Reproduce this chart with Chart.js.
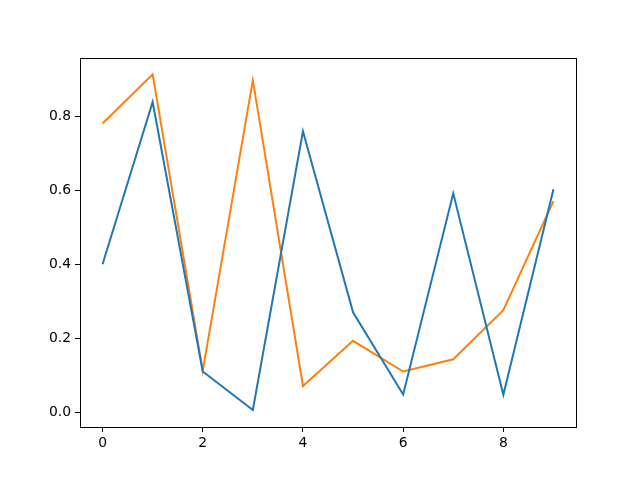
<!DOCTYPE html>
<html>
<head>
<meta charset="utf-8">
<script src="https://cdn.jsdelivr.net/npm/chart.js@4"></script>
<style>
html,body{margin:0;padding:0;background:#fff;}
canvas{display:block;}
</style>
</head>
<body>
<canvas id="c" width="640" height="480"></canvas>
<script>
const xValues = [0, 1, 2, 3, 4, 5, 6, 7, 8, 9];
const series1 = [0.400, 0.839, 0.110, 0.006, 0.760, 0.270, 0.048, 0.592, 0.047, 0.603];
const series2 = [0.781, 0.914, 0.112, 0.898, 0.071, 0.193, 0.110, 0.143, 0.276, 0.571];
const xTicks = [0, 2, 4, 6, 8];
const yTicks = [0.0, 0.2, 0.4, 0.6, 0.8];

const frame = {
  id: 'frame',
  afterDraw(chart) {
    const a = chart.chartArea, ctx = chart.ctx;
    ctx.save();
    ctx.strokeStyle = '#000';
    ctx.lineWidth = 1;
    ctx.strokeRect(Math.round(a.left) + 0.5, Math.round(a.top) + 0.5,
                   Math.round(a.right - a.left), Math.round(a.bottom - a.top));
    ctx.restore();
  }
};

const font = {family: 'DejaVu Sans', size: 13.9};

new Chart(document.getElementById('c'), {
  type: 'line',
  data: {
    datasets: [
      {data: xValues.map((x, i) => ({x, y: series1[i]})), borderColor: '#1f77b4', borderWidth: 2, pointRadius: 0, tension: 0, fill: false},
      {data: xValues.map((x, i) => ({x, y: series2[i]})), borderColor: '#ff7f0e', borderWidth: 2, pointRadius: 0, tension: 0, fill: false}
    ]
  },
  options: {
    responsive: false,
    animation: false,
    layout: {padding: {left: 0, top: 58, right: 64, bottom: 0}},
    plugins: {legend: {display: false}, tooltip: {enabled: false}},
    scales: {
      x: {
        type: 'linear',
        min: -0.45, max: 9.45,
        afterBuildTicks: s => { s.ticks = xTicks.map(v => ({value: v})); },
        afterFit: s => { s.height = 53; },
        grid: {drawOnChartArea: false, drawTicks: true, tickLength: 5, color: '#000'},
        border: {display: true, color: '#000', width: 1},
        ticks: {color: '#000', font, padding: 3, maxRotation: 0, callback: v => String(v)}
      },
      y: {
        type: 'linear',
        min: -0.040, max: 0.958,
        afterBuildTicks: s => { s.ticks = yTicks.map(v => ({value: v})); },
        afterFit: s => { s.width = 80; },
        grid: {drawOnChartArea: false, drawTicks: true, tickLength: 5, color: '#000'},
        border: {display: true, color: '#000', width: 1},
        ticks: {color: '#000', font, padding: 4, callback: v => Number(v).toFixed(1)}
      }
    }
  },
  plugins: [frame]
});
</script>
</body>
</html>
